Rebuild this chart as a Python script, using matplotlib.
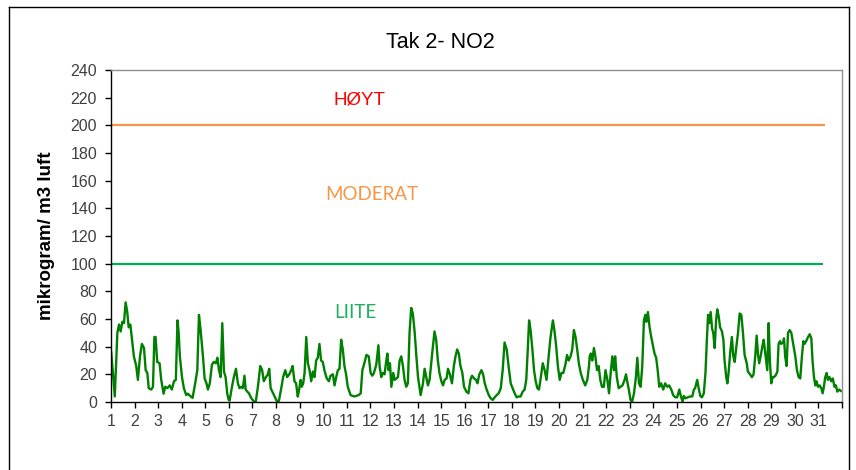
import matplotlib
matplotlib.use("Agg")
import matplotlib.pyplot as plt
from matplotlib.lines import Line2D

plt.rcParams['font.family'] = ['Liberation Sans', 'DejaVu Sans']

title = "Tak 2- NO2"
ylabel = "mikrogram/ m3 luft"

# time in days (1 = start of day 1) and NO2 concentration
days = [
    1.01, 1.16, 1.27, 1.34, 1.41, 1.48, 1.55, 1.62, 1.69, 1.75, 1.82, 1.89, 1.97, 2.07, 2.14,
    2.23, 2.31, 2.40, 2.47, 2.54, 2.60, 2.71, 2.78, 2.84, 2.89, 2.96, 3.06, 3.13, 3.23, 3.30,
    3.39, 3.49, 3.58, 3.67, 3.75, 3.82, 3.87, 3.92, 4.01, 4.09, 4.19, 4.26, 4.38, 4.46, 4.57,
    4.66, 4.73, 4.80, 4.90, 4.97, 5.05, 5.11, 5.19, 5.28, 5.36, 5.45, 5.51, 5.58, 5.65, 5.72,
    5.79, 5.86, 5.93, 5.99,
    6.03, 6.13, 6.21, 6.30, 6.38, 6.45, 6.52, 6.59, 6.66, 6.71, 6.78, 6.85, 6.95, 7.06, 7.14,
    7.23, 7.33, 7.41, 7.48, 7.57, 7.65, 7.71, 7.77, 7.84, 7.94, 8.03, 8.12, 8.22, 8.30, 8.39,
    8.47, 8.56, 8.64, 8.70, 8.78, 8.85, 8.92, 8.98, 9.04, 9.09, 9.15, 9.21, 9.28, 9.35, 9.42,
    9.49, 9.56, 9.63, 9.70, 9.77, 9.84, 9.91, 9.98, 10.05, 10.15, 10.24, 10.31, 10.41, 10.48,
    10.55, 10.62, 10.69, 10.76, 10.83, 10.90, 10.97, 11.04, 11.16, 11.25,
    11.31, 11.40, 11.50, 11.59, 11.66, 11.76, 11.83, 11.93, 12.01, 12.08, 12.15, 12.25, 12.34,
    12.39, 12.46, 12.53, 12.60, 12.66, 12.72, 12.77, 12.83, 12.89, 12.97, 13.03, 13.10, 13.17,
    13.24, 13.31, 13.38, 13.45, 13.52, 13.59, 13.66, 13.73, 13.80, 13.88, 13.95, 14.02, 14.13,
    14.23, 14.30, 14.37, 14.44, 14.51, 14.58, 14.65, 14.72, 14.79, 14.86, 14.93, 15.01, 15.08,
    15.15, 15.23, 15.29, 15.37, 15.46, 15.54, 15.61, 15.68, 15.75, 15.82, 15.90, 15.97, 16.07,
    16.16, 16.24,
    16.31, 16.40, 16.48, 16.54, 16.62, 16.71, 16.78, 16.85, 16.93, 17.02, 17.10, 17.19, 17.27,
    17.36, 17.44, 17.53, 17.61, 17.69, 17.78, 17.86, 17.95, 18.03, 18.12, 18.20, 18.29, 18.37,
    18.46, 18.54, 18.61, 18.68, 18.73, 18.80, 18.87, 18.94, 19.01, 19.08, 19.15, 19.22, 19.31,
    19.39, 19.47, 19.56, 19.64, 19.74, 19.81, 19.88, 19.95, 20.03, 20.10, 20.18, 20.27, 20.34,
    20.41, 20.49, 20.56, 20.63, 20.70, 20.77, 20.84, 20.92, 21.01, 21.11, 21.20, 21.27,
    21.30, 21.35, 21.41, 21.48, 21.54, 21.61, 21.68, 21.75, 21.82, 21.90, 21.97, 22.05, 22.12,
    22.19, 22.26, 22.33, 22.38, 22.45, 22.53, 22.61, 22.69, 22.78, 22.84, 22.89, 22.96, 23.03,
    23.10, 23.18, 23.26, 23.32, 23.39, 23.46, 23.53, 23.60, 23.66, 23.70, 23.77, 23.84, 23.91,
    23.98, 24.05, 24.12, 24.19, 24.25, 24.33, 24.42, 24.50, 24.59, 24.67, 24.76, 24.84, 24.93,
    25.01, 25.10, 25.17, 25.24, 25.29, 25.36, 25.46, 25.56, 25.65, 25.72, 25.77, 25.86, 25.92,
    25.99, 26.06, 26.14, 26.21, 26.27,
    26.32, 26.37, 26.43, 26.49, 26.54, 26.60, 26.66, 26.71, 26.77, 26.83, 26.91, 26.97, 27.02,
    27.09, 27.14, 27.19, 27.26, 27.33, 27.39, 27.45, 27.52, 27.59, 27.66, 27.73, 27.80, 27.87,
    27.96, 28.01, 28.10, 28.18, 28.25, 28.32, 28.38, 28.44, 28.49, 28.55, 28.62, 28.68, 28.72,
    28.78, 28.83, 28.89, 28.94, 29.00, 29.06, 29.11, 29.18, 29.26, 29.31, 29.37, 29.42, 29.50,
    29.54, 29.59, 29.65, 29.71, 29.78, 29.85, 29.93, 30.02, 30.09, 30.16, 30.23, 30.30, 30.36,
    30.41, 30.48, 30.56, 30.63, 30.70, 30.75, 30.81, 30.87, 30.92, 30.98, 31.05, 31.12, 31.18,
    31.23, 31.29, 31.35, 31.40, 31.47, 31.54, 31.61, 31.68, 31.74, 31.80, 31.88, 31.95,
]
no2 = [
    36, 4, 50, 56, 51, 58, 57, 72, 65, 54, 56, 45, 33, 26, 16,
    33, 42, 39, 23, 21, 10, 9, 11, 47, 47, 29, 28, 16, 6, 11,
    10, 12, 9, 15, 16, 59, 50, 33, 18, 10, 5, 6, 4, 3, 13.5,
    23, 63, 52, 33, 17, 13.5, 9, 13.5, 27, 29, 28, 32, 23, 18, 57,
    22, 18, 6, 1.5,
    1, 11, 18, 24, 13.5, 10, 11, 10, 19, 9, 7.5, 6.3, 2.7, 0.3, 0.3,
    11, 26, 23, 15, 18, 20, 24, 10, 7.5, 3.9, 0.7, 0.7, 10, 18, 23,
    18, 20, 23, 26, 15, 13.5, 3.9, 9, 16, 11, 13.5, 21, 47, 28, 23,
    15, 22, 18, 30, 32, 42, 30, 29, 23, 17, 15, 19, 20, 12,
    18, 23, 24, 45, 38, 26, 20, 11, 5, 4.4,
    4, 4.4, 5, 6.3, 23, 29, 34, 33, 21, 19, 21, 27, 41,
    26, 18, 21, 20, 28, 35, 23, 28, 11, 21, 16, 17, 18,
    30, 33, 26, 16, 11, 13.5, 50, 68, 64, 50, 33, 18, 5,
    13.5, 24, 18, 12, 16, 28, 40, 51, 45, 30, 21, 15, 12,
    16, 17, 24, 20, 13.5, 26, 33, 38, 35, 26, 21, 11, 7.5,
    6.3, 16,
    19, 17, 16, 13.5, 20, 23, 20, 13.5, 9, 5, 2.7, 1.5, 3.4,
    5, 6.3, 10, 23, 43, 38, 26, 13.5, 10, 6.3, 3.4, 4, 4,
    7.5, 9, 16, 40, 59, 51, 38, 23, 15, 10, 9, 17, 28,
    23, 16, 33, 47, 59, 51, 40, 26, 16, 21, 21, 27, 34,
    30, 33, 38, 52, 47, 38, 28, 21, 16, 12, 16, 26,
    33, 35, 30, 39, 33, 23, 26, 16, 11, 11, 23, 16, 6.3,
    21, 33, 23, 33, 18, 10, 11, 12, 16, 20, 15, 9, 1.5,
    0.3, 6.3, 18, 32, 13.5, 11, 26, 59, 63, 58, 65, 54, 47,
    41, 35, 32, 22, 11, 13.5, 9, 13.5, 11, 12, 9, 5, 3.4,
    3.4, 9, 4, 0.3, 4.4, 2.7, 3.4, 4, 4, 9, 10, 16, 10,
    4.4, 3.4, 6.3, 21, 45,
    63, 57, 65, 53, 50, 39, 59, 67, 62, 54, 51, 45, 30,
    18, 13.5, 21, 36, 47, 33, 29, 40, 50, 64, 63, 50, 34,
    28, 22, 20, 18, 20, 33, 48, 34, 28, 33, 40, 45, 39,
    30, 23, 57, 30, 13.5, 18, 18, 19, 22, 42, 44, 42, 43,
    46, 33, 26, 50, 52, 50, 42, 33, 23, 18, 17, 33, 44,
    42, 44, 47, 49, 46, 30, 18, 12, 15, 11, 12, 10, 6.3,
    11, 18, 21, 16, 18, 15, 17, 11, 12, 7.5, 9, 8,
]

# threshold lines: level, end day
thresholds = [200, 100]
threshold_end = [31.3, 31.2]
threshold_colors = ['#F79646', '#00B050']

zone_labels = ["HØYT", "MODERAT", "LIITE"]
zone_x = [11.52, 12.07, 11.35]
zone_y = [218, 150, 65]
zone_colors = ['#FF0000', '#F79646', '#1DB15E']
zone_fonts = ['Liberation Sans', 'Lato', 'Lato']
zone_sizes = [13.5, 13.5, 13.5]

day_ticks = list(range(1, 33))
day_labels = [str(d) for d in range(1, 32)] + [""]
y_ticks = list(range(0, 241, 20))

fig = plt.figure(figsize=(8.56, 4.70), dpi=100)
W, H = 856, 470
ax = fig.add_axes([111 / W, 1 - 402 / H, (842 - 111) / W, (402 - 70) / H])

for lvl, xe, c in zip(thresholds, threshold_end, threshold_colors):
    ax.plot([1, xe], [lvl, lvl], color=c, lw=1.6, solid_capstyle='butt')

ax.plot(days, no2, color='#008000', lw=1.7)

for t, x, y, c, f, s in zip(zone_labels, zone_x, zone_y, zone_colors, zone_fonts, zone_sizes):
    ax.text(x, y, t, color=c, fontsize=s, ha='center', va='center',
            family=[f, 'DejaVu Sans'])

ax.set_xlim(1, 32)
ax.set_ylim(0, 240)
ax.set_xticks(day_ticks)
ax.set_xticklabels(day_labels)
ax.set_yticks(y_ticks)
ax.tick_params(axis='both', direction='out', length=4, width=1, colors='#000000',
               labelcolor='#404040', labelsize=11.5)
ax.tick_params(axis='x', pad=5)
ax.tick_params(axis='y', pad=6)
for s in ['left', 'bottom']:
    ax.spines[s].set_color('#000000')
    ax.spines[s].set_linewidth(1.0)
for s in ['top', 'right']:
    ax.spines[s].set_color('#909090')
    ax.spines[s].set_linewidth(1.0)

fig.text(440 / W, 1 - 42 / H, title, ha='center', va='center', fontsize=15.5, color='#000000')
fig.text(47 / W, 1 - 236 / H, ylabel, ha='center', va='center', rotation=90,
         fontsize=13.5, fontweight='bold', color='#000000')

# outer chart border
bx0, bx1, by1 = 8.5 / W, 848.5 / W, 1 - 6.5 / H
fig.add_artist(Line2D([bx0, bx0], [0, by1], transform=fig.transFigure, color='black', lw=1))
fig.add_artist(Line2D([bx1, bx1], [0, by1], transform=fig.transFigure, color='black', lw=1))
fig.add_artist(Line2D([bx0, bx1], [by1, by1], transform=fig.transFigure, color='black', lw=1))

fig.savefig("out.png", dpi=100)
